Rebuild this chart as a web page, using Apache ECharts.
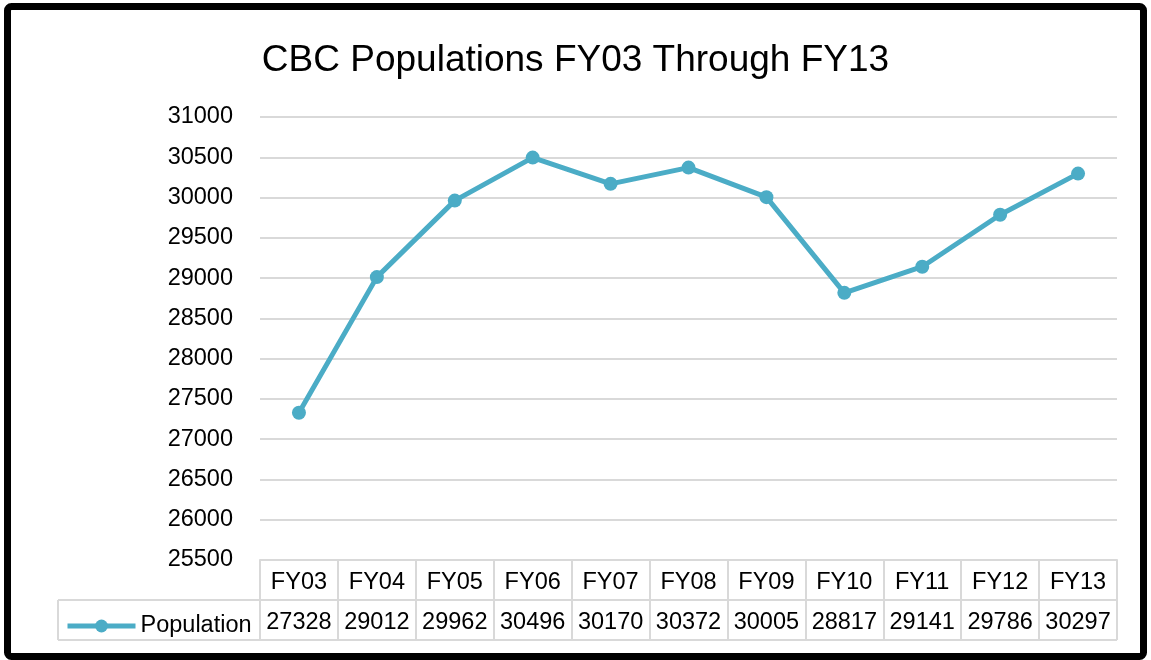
<!DOCTYPE html>
<html><head><meta charset="utf-8">
<script src="https://cdn.jsdelivr.net/npm/echarts@6/dist/echarts.min.js"></script>
<style>html,body{margin:0;padding:0;background:#fff}#c{width:1151px;height:660px}</style>
</head><body><div id="c"></div>
<script>
const categories = ['FY03','FY04','FY05','FY06','FY07','FY08','FY09','FY10','FY11','FY12','FY13'];
const population = [27328,29012,29962,30496,30170,30372,30005,28817,29141,29786,30297];
const seriesName = 'Population';
const titleText = 'CBC Populations FY03 Through FY13';

const FONT = '"Liberation Sans", Arial, sans-serif';
const FS = 23.5;
const GL = 260, GR = 1117, GT = 117, GB = 560, ROW = 40, LEGL = 58;
const gridColor = '#d9d9d9';
const chart = echarts.init(document.getElementById('c'));
chart.setOption({
  animation: false,
  backgroundColor: '#fff',
  title: {text: titleText, left: 'center', top: 37,
    textStyle: {fontFamily: FONT, fontSize: 37, fontWeight: 'normal', color: '#000'}},
  grid: {left: GL, right: 1151 - GR, top: GT, bottom: 660 - GB, containLabel: false},
  legend: {left: LEGL + 2, top: GB + ROW + 9, itemWidth: 68, itemHeight: 16, itemGap: 0,
    lineStyle: {width: 5},
    textStyle: {fontFamily: FONT, fontSize: FS, color: '#000'},
    data: [seriesName]},
  xAxis: {type: 'category', data: categories, boundaryGap: true,
    axisLine: {show: true, lineStyle: {color: gridColor, width: 2}},
    axisTick: {show: true, length: ROW * 2, interval: 0, lineStyle: {color: gridColor, width: 2}},
    axisLabel: {interval: 0, margin: 3,
      formatter: (v, i) => '{h|' + v + '}\n{v|' + population[i] + '}',
      rich: {h: {fontFamily: FONT, fontSize: FS, lineHeight: ROW, color: '#000'},
             v: {fontFamily: FONT, fontSize: FS, lineHeight: ROW, color: '#000'}}}},
  yAxis: {type: 'value', min: 25500, max: 31000, interval: 500,
    axisLine: {show: false}, axisTick: {show: false},
    axisLabel: {margin: 27, fontFamily: FONT, fontSize: FS, color: '#000', formatter: v => String(v)},
    splitLine: {lineStyle: {color: gridColor, width: 2}}},
  series: [{name: seriesName, type: 'line', data: population,
    symbol: 'circle', symbolSize: 14,
    lineStyle: {color: '#4BACC6', width: 5},
    itemStyle: {color: '#4BACC6'}}],
  graphic: [
    {type: 'line', shape: {x1: LEGL, y1: GB + ROW, x2: GR, y2: GB + ROW}, style: {stroke: gridColor, lineWidth: 2}},
    {type: 'line', shape: {x1: LEGL, y1: GB + 2*ROW, x2: GR, y2: GB + 2*ROW}, style: {stroke: gridColor, lineWidth: 2}},
    {type: 'line', shape: {x1: LEGL, y1: GB + ROW, x2: LEGL, y2: GB + 2*ROW}, style: {stroke: gridColor, lineWidth: 2}},
    {type: 'rect', shape: {x: 7.5, y: 6.5, width: 1136, height: 650, r: 4}, style: {fill: null, stroke: '#000', lineWidth: 7}}
  ]
});
</script></body></html>
